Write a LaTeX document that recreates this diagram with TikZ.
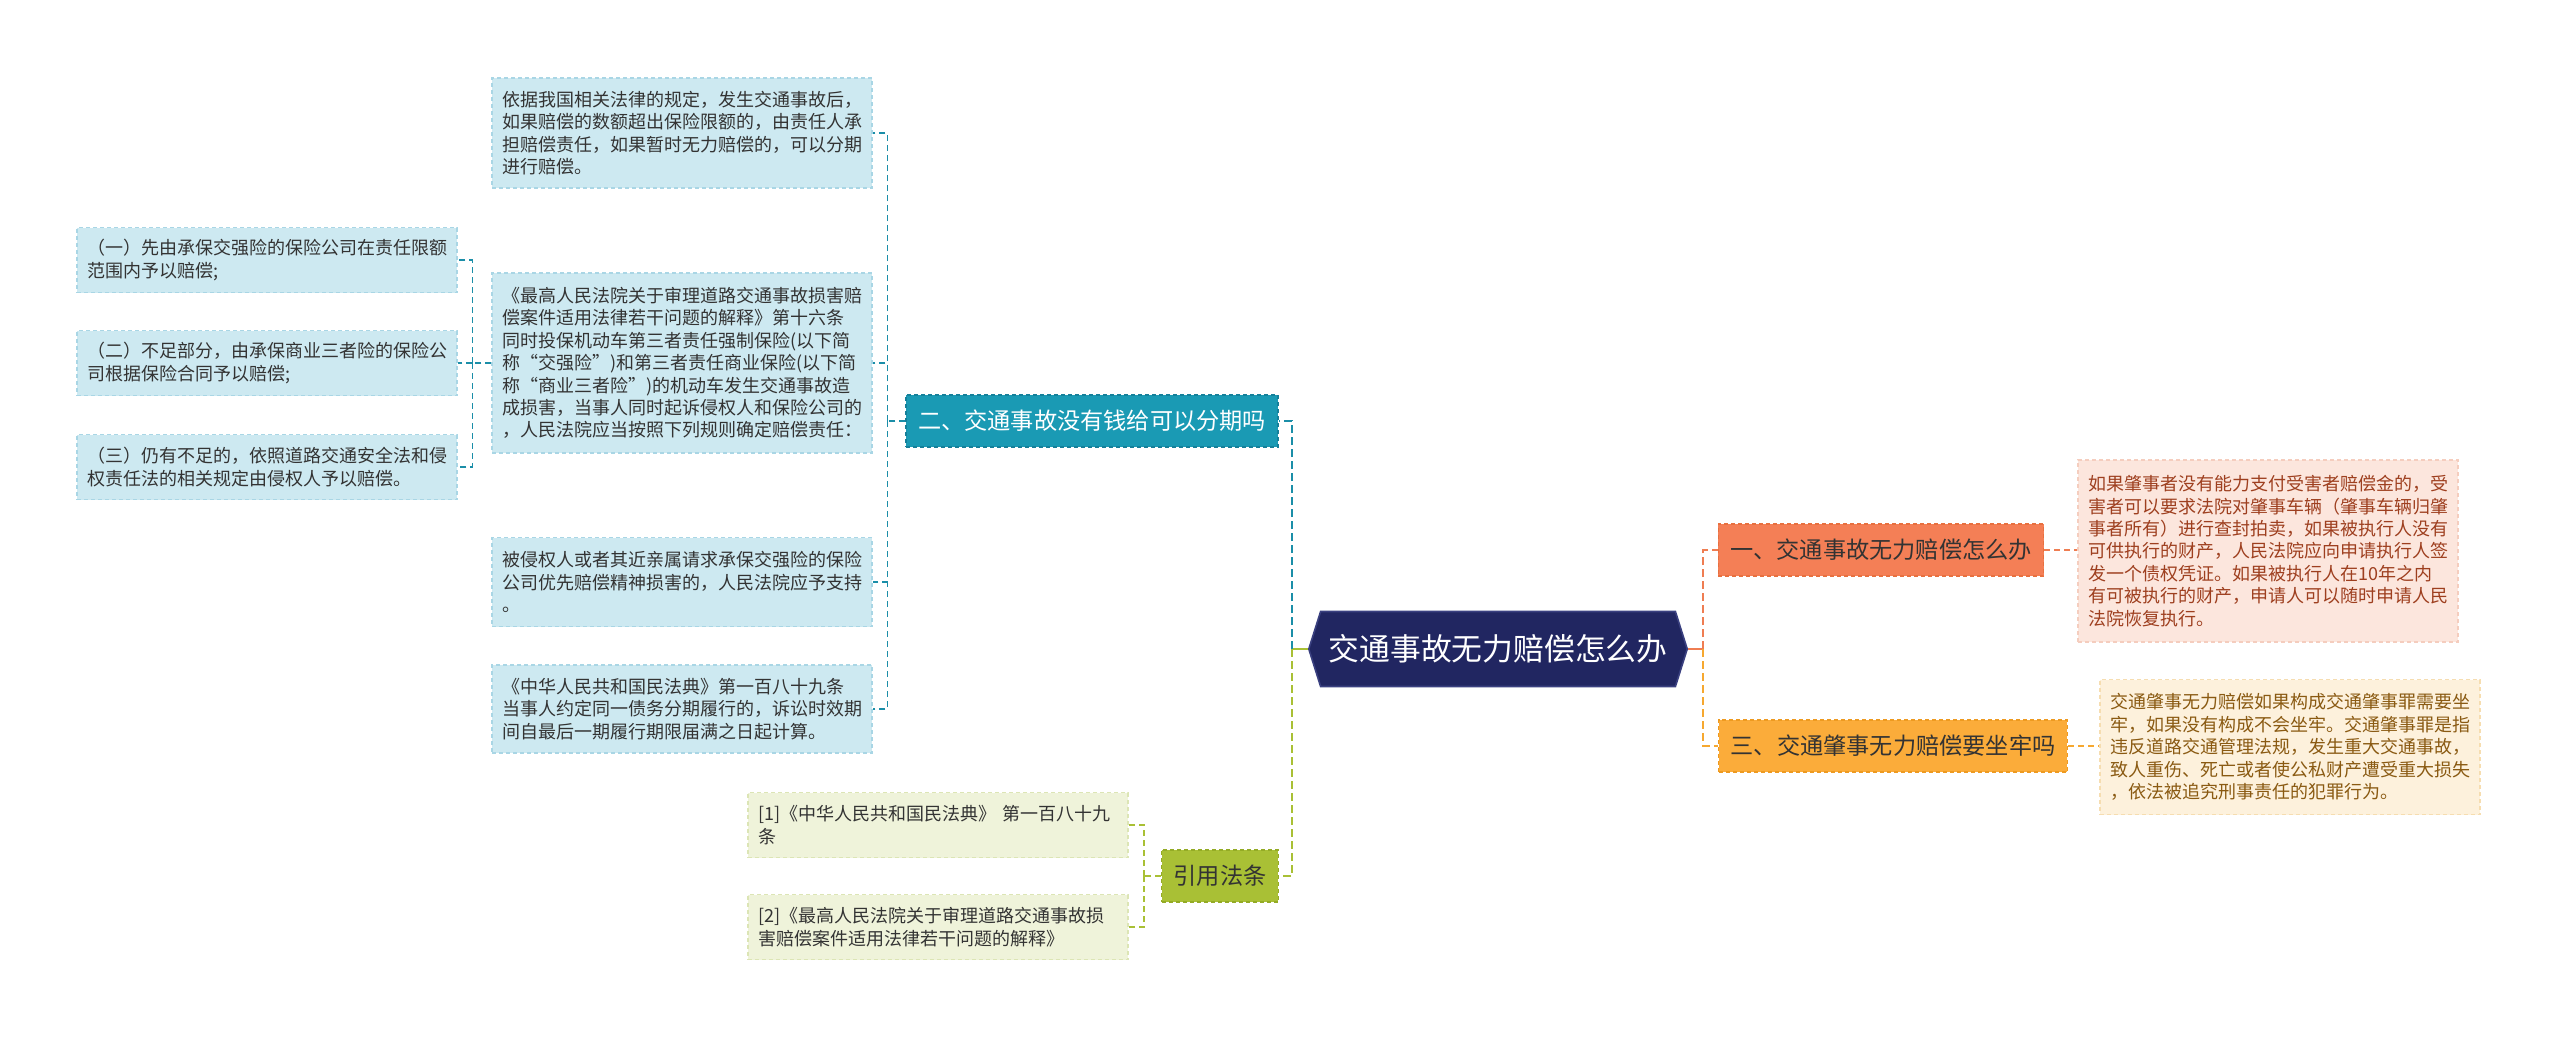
\documentclass[tikz,border=0pt]{standalone}
\usepackage{fontspec}
\setmainfont{Noto Sans CJK SC}
\usetikzlibrary{shapes.symbols}
\definecolor{rootnavy}{RGB}{33,38,97}
\definecolor{rootedge}{RGB}{58,64,128}
\definecolor{tealfill}{RGB}{26,154,180}
\definecolor{tealedge}{RGB}{21,128,154}
\definecolor{tealline}{RGB}{27,142,168}
\definecolor{bluefill}{RGB}{205,233,241}
\definecolor{blueedge}{RGB}{169,214,229}
\definecolor{coralfill}{RGB}{244,127,86}
\definecolor{coraledge}{RGB}{232,112,63}
\definecolor{coralline}{RGB}{239,125,82}
\definecolor{pinkfill}{RGB}{252,230,221}
\definecolor{pinkedge}{RGB}{245,205,190}
\definecolor{pinktext}{RGB}{158,63,31}
\definecolor{amberfill}{RGB}{251,172,58}
\definecolor{amberedge}{RGB}{238,154,32}
\definecolor{amberline}{RGB}{246,168,48}
\definecolor{creamfill}{RGB}{253,241,220}
\definecolor{creamedge}{RGB}{246,221,176}
\definecolor{creamtext}{RGB}{138,90,18}
\definecolor{limefill}{RGB}{169,192,53}
\definecolor{limeedge}{RGB}{148,171,37}
\definecolor{paleline}{RGB}{169,192,53}
\definecolor{palefill}{RGB}{239,243,218}
\definecolor{paleedge}{RGB}{220,229,181}
\definecolor{darktext}{RGB}{51,51,51}

\begin{document}
\begin{tikzpicture}[x=0.5pt,y=-0.5pt,
  leaf/.style n args={3}{draw=#2,fill=#1,text=#3,dash pattern=on 2pt off 1.5pt,line width=0.6pt,
    text width=180pt,align=left,inner xsep=5pt,inner ysep=0pt,font=\fontsize{9}{11.2}\selectfont},
  branch/.style n args={3}{draw=#2,fill=#1,text=#3,dash pattern=on 2pt off 1.5pt,line width=0.6pt,
    inner xsep=6pt,inner ysep=0pt,minimum height=26pt,font=\fontsize{11.6}{14}\selectfont},
  rootline/.style={draw=#1,line width=1.3pt},
  mainline/.style={draw=#1,line width=1.3pt,dash pattern=on 4pt off 2pt},
  subline/.style={draw=#1,line width=0.9pt,dash pattern=on 3pt off 2pt}]
\useasboundingbox (0,0) rectangle (2560,1038);

\node[signal,signal to=west and east,signal pointer angle=145,fill=rootnavy,draw=rootedge,line width=0.8pt,
  text=white,minimum width=187pt,minimum height=37.5pt,inner xsep=4pt,font=\fontsize{15.4}{18}\selectfont]
  (root) at (1498,649) {交通事故无力赔偿怎么办};

\node[branch={coralfill}{coraledge}{darktext}] (b1) at (1881,550) {一、交通事故无力赔偿怎么办};
\node[branch={amberfill}{amberedge}{darktext}] (b3) at (1893,746) {三、交通肇事无力赔偿要坐牢吗};
\node[branch={tealfill}{tealedge}{white}] (b2) at (1092,421) {二、交通事故没有钱给可以分期吗};
\node[branch={limefill}{limeedge}{darktext}] (cite) at (1220,876) {引用法条};

\node[leaf={pinkfill}{pinkedge}{pinktext},minimum height=91pt] (n1) at (2268,551)
  {如果肇事者没有能力支付受害者赔偿金的，受\\害者可以要求法院对肇事车辆（肇事车辆归肇\\事者所有）进行查封拍卖，如果被执行人没有\\可供执行的财产，人民法院应向申请执行人签\\发一个债权凭证。如果被执行人在10年之内\\有可被执行的财产，申请人可以随时申请人民\\法院恢复执行。};
\node[leaf={creamfill}{creamedge}{creamtext},minimum height=67.5pt] (n3) at (2290,747)
  {交通肇事无力赔偿如果构成交通肇事罪需要坐\\牢，如果没有构成不会坐牢。交通肇事罪是指\\违反道路交通管理法规，发生重大交通事故，\\致人重伤、死亡或者使公私财产遭受重大损失\\，依法被追究刑事责任的犯罪行为。};

\node[leaf={bluefill}{blueedge}{darktext},minimum height=55pt] (d1) at (682,133)
  {依据我国相关法律的规定，发生交通事故后，\\如果赔偿的数额超出保险限额的，由责任人承\\担赔偿责任，如果暂时无力赔偿的，可以分期\\进行赔偿。};
\node[leaf={bluefill}{blueedge}{darktext},minimum height=90pt] (d2) at (682,363)
  {《最高人民法院关于审理道路交通事故损害赔\\偿案件适用法律若干问题的解释》第十六条\\同时投保机动车第三者责任强制保险(以下简\\称“交强险”)和第三者责任商业保险(以下简\\称“商业三者险”)的机动车发生交通事故造\\成损害，当事人同时起诉侵权人和保险公司的\\，人民法院应当按照下列规则确定赔偿责任：};
\node[leaf={bluefill}{blueedge}{darktext},minimum height=44.5pt] (d3) at (682,582)
  {被侵权人或者其近亲属请求承保交强险的保险\\公司优先赔偿精神损害的，人民法院应予支持\\。};
\node[leaf={bluefill}{blueedge}{darktext},minimum height=44pt] (d4) at (682,709)
  {《中华人民共和国民法典》第一百八十九条\\当事人约定同一债务分期履行的，诉讼时效期\\间自最后一期履行期限届满之日起计算。};

\node[leaf={bluefill}{blueedge}{darktext},minimum height=32.5pt] (g1) at (267,260)
  {（一）先由承保交强险的保险公司在责任限额\\范围内予以赔偿;};
\node[leaf={bluefill}{blueedge}{darktext},minimum height=32.5pt] (g2) at (267,363)
  {（二）不足部分，由承保商业三者险的保险公\\司根据保险合同予以赔偿;};
\node[leaf={bluefill}{blueedge}{darktext},minimum height=32.5pt] (g3) at (267,467)
  {（三）仍有不足的，依照道路交通安全法和侵\\权责任法的相关规定由侵权人予以赔偿。};

\node[leaf={palefill}{paleedge}{darktext},minimum height=32.5pt] (r1) at (938,825)
  {[1]《中华人民共和国民法典》 第一百八十九\\条};
\node[leaf={palefill}{paleedge}{darktext},minimum height=32.5pt] (r2) at (938,927)
  {[2]《最高人民法院关于审理道路交通事故损\\害赔偿案件适用法律若干问题的解释》};

\draw[rootline=paleline] (root.west) -- ++(-16,0) coordinate (lj);
\draw[mainline=tealline] (lj) |- (b2.east);
\draw[mainline=paleline] (lj) |- (cite.east);
\draw[rootline=coralline] (root.east) -- ++(15,0) coordinate (rj);
\draw[mainline=coralline] (rj) |- (b1.west);
\draw[mainline=amberline] (rj) |- (b3.west);
\draw[subline=coralline] (b1.east) -- (b1.east -| n1.west);
\draw[subline=amberline] (b3.east) -- (b3.east -| n3.west);

\draw[subline=tealline] (b2.west) -- ++(-18,0) coordinate (bj);
\foreach \n in {d1,d2,d3,d4} \draw[subline=tealline] (bj) |- (\n.east);
\draw[subline=tealline] (d2.west) -- ++(-19,0) coordinate (dj);
\foreach \n in {g1,g2,g3} \draw[subline=tealline] (dj) |- (\n.east);
\draw[subline=paleline] (cite.west) -- ++(-17,0) coordinate (cj);
\foreach \n in {r1,r2} \draw[subline=paleline] (cj) |- (\n.east);
\end{tikzpicture}
\end{document}
